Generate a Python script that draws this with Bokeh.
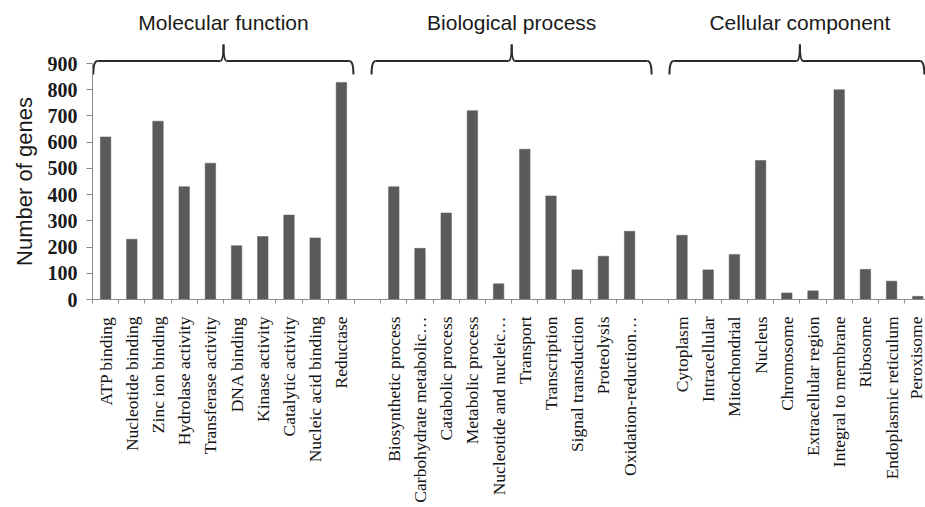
import math
from bokeh.plotting import figure
from bokeh.models import Range1d, FixedTicker, LinearAxis, ColumnDataSource
from bokeh.embed import file_html
from bokeh.resources import INLINE
from bokeh.core.properties import value

# ---------------- data ----------------
MF_TERMS = ["ATP binding", "Nucleotide binding", "Zinc ion binding", "Hydrolase activity",
            "Transferase activity", "DNA binding", "Kinase activity", "Catalytic activity",
            "Nucleic acid binding", "Reductase"]
MF_COUNTS = [620, 230, 680, 430, 520, 205, 240, 322, 235, 828]

BP_TERMS = ["Biosynthetic process", "Carbohydrate metabolic\u2026", "Catabolic process",
            "Metabolic process", "Nucleotide and nucleic\u2026", "Transport", "Transcription",
            "Signal transduction", "Proteolysis", "Oxidation-reduction\u2026"]
BP_COUNTS = [430, 195, 330, 720, 60, 573, 395, 113, 165, 260]

CC_TERMS = ["Cytoplasm", "Intracellular", "Mitochondrial", "Nucleus", "Chromosome",
            "Extracellular region", "Integral to membrane", "Ribosome",
            "Endoplasmic reticulum", "Peroxisome"]
CC_COUNTS = [245, 113, 172, 530, 25, 33, 800, 115, 70, 12]

GROUP_NAMES = ["Molecular function", "Biological process", "Cellular component"]
Y_TICKS = [0, 100, 200, 300, 400, 500, 600, 700, 800, 900]
Y_LABEL = "Number of genes"

# ---------------- layout ----------------
groups = [(MF_TERMS, MF_COUNTS), (BP_TERMS, BP_COUNTS), (CC_TERMS, CC_COUNTS)]
xs, terms, counts, group_mid = [], [], [], []
pos = 0
for g_terms, g_counts in groups:
    start = pos
    for t, c in zip(g_terms, g_counts):
        xs.append(pos)
        terms.append(t)
        counts.append(c)
        pos += 1
    group_mid.append((start + pos - 1) / 2.0)
    pos += 1  # empty slot between groups

W, H = 925, 507
UNIT = 26.2          # px per category slot
AXIS_PX = 92         # y axis position from the left edge of the figure
AXIS_X = -0.5
x0 = AXIS_X - AXIS_PX / UNIT
x1 = x0 + W / UNIT
YS = 236.0 / 900.0   # px per gene count
ZERO_PX = 299        # x axis position from the top of the figure
y_top = ZERO_PX / YS
y_bot = -(H - ZERO_PX) / YS

p = figure(width=W, height=H, output_backend="svg", toolbar_location=None,
           x_range=Range1d(x0, x1), y_range=Range1d(y_bot, y_top),
           x_axis_location=None, y_axis_location=None,
           min_border_left=0, min_border_right=0, min_border_top=0,
           min_border_bottom=0)
p.outline_line_color = None
p.grid.visible = False
p.background_fill_color = "white"

src = ColumnDataSource(dict(x=xs, top=counts))
p.vbar(x="x", top="top", width=0.4, bottom=0, source=src,
       fill_color="#5a5a5a", line_color="#5a5a5a", line_width=0.5)

# x axis
boundaries = [b - 0.5 for b in range(0, pos + 1)]
xax = LinearAxis(fixed_location=0)
xax.ticker = FixedTicker(ticks=xs, minor_ticks=boundaries)
xax.bounds = (AXIS_X, x1)
xax.major_label_overrides = {x: t for x, t in zip(xs, terms)}
xax.major_label_orientation = math.pi / 2
xax.major_tick_line_color = None
xax.major_tick_out = 0
xax.major_tick_in = 0
xax.minor_tick_line_color = "#8c8c8c"
xax.minor_tick_out = 4
xax.minor_tick_in = 0
xax.axis_line_color = "#8c8c8c"
xax.major_label_standoff = 13
xax.major_label_text_font = "Liberation Serif"
xax.major_label_text_font_size = "17.5px"
xax.major_label_text_color = "#141414"
p.add_layout(xax, "below")

# y axis
yax = LinearAxis(fixed_location=AXIS_X)
yax.ticker = FixedTicker(ticks=Y_TICKS, minor_ticks=[])
yax.bounds = (Y_TICKS[0], Y_TICKS[-1])
yax.axis_line_color = "#8c8c8c"
yax.major_tick_line_color = "#8c8c8c"
yax.major_tick_out = 6
yax.major_tick_in = 0
yax.minor_tick_line_color = None
yax.major_label_standoff = 9
yax.major_label_text_font = "Liberation Serif"
yax.major_label_text_font_style = "bold"
yax.major_label_text_font_size = "20px"
yax.major_label_text_color = "#1a1a1a"
p.add_layout(yax, "left")

# y axis title
p.text(x=[AXIS_X - 68 / UNIT], y=[(Y_TICKS[0] + Y_TICKS[-1]) / 2], text=[Y_LABEL],
       angle=math.pi / 2, text_align="center", text_baseline="middle",
       text_font=value("Liberation Sans"), text_font_size="22px", text_color="#1a1a1a")

# braces
BRACE_SPANS = [(-0.47, 9.46), (10.15, 20.84), (21.52, 31.25)]
Y_LINE, Y_END, Y_TIP = 910, 858, 972
DX_END, DX_TIP = 0.16, 0.12
qx0, qy0, qx1, qy1, qcx, qcy = [], [], [], [], [], []
sx0, sy0, sx1, sy1 = [], [], [], []
for (l, r), c in zip(BRACE_SPANS, group_mid):
    qx0.append(l); qy0.append(Y_END); qx1.append(l + DX_END); qy1.append(Y_LINE); qcx.append(l); qcy.append(Y_LINE)
    qx0.append(c - DX_TIP); qy0.append(Y_LINE); qx1.append(c); qy1.append(Y_TIP); qcx.append(c); qcy.append(Y_LINE)
    qx0.append(c); qy0.append(Y_TIP); qx1.append(c + DX_TIP); qy1.append(Y_LINE); qcx.append(c); qcy.append(Y_LINE)
    qx0.append(r - DX_END); qy0.append(Y_LINE); qx1.append(r); qy1.append(Y_END); qcx.append(r); qcy.append(Y_LINE)
    sx0 += [l + DX_END, c + DX_TIP]; sx1 += [c - DX_TIP, r - DX_END]
    sy0 += [Y_LINE, Y_LINE]; sy1 += [Y_LINE, Y_LINE]

p.quadratic(x0=qx0, y0=qy0, x1=qx1, y1=qy1, cx=qcx, cy=qcy, line_color="#2b2b2b", line_width=2)
p.segment(x0=sx0, y0=sy0, x1=sx1, y1=sy1, line_color="#2b2b2b", line_width=2)

p.text(x=group_mid, y=[1055] * len(group_mid), text=GROUP_NAMES,
       text_font=value("Liberation Sans"), text_font_size="21px",
       text_align="center", text_baseline="middle", text_color="#1a1a1a")

open("out.html", "w").write(file_html(p, INLINE))
